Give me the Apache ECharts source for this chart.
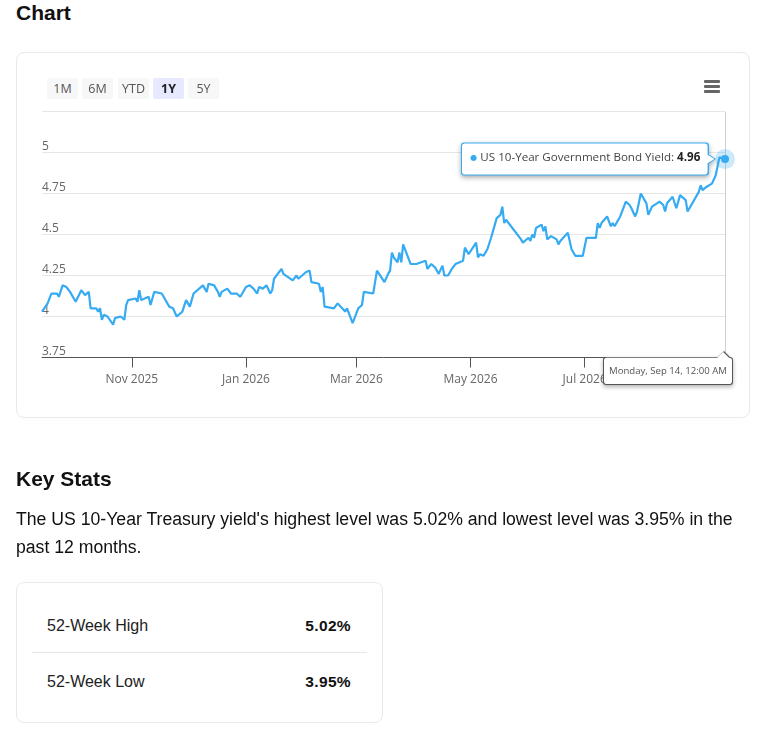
<!DOCTYPE html>
<html><head><meta charset="utf-8">
<script src="https://cdn.jsdelivr.net/npm/echarts@6/dist/echarts.min.js"></script>
<style>
html,body{margin:0;padding:0;background:#fff;width:757px;height:730px;overflow:hidden}
body{position:relative;font-family:"Liberation Sans",Arial,sans-serif;color:#111}
.abs{position:absolute;white-space:nowrap}
h2{margin:0;font-size:21px;font-weight:700;line-height:24px}
.card{position:absolute;border:1px solid #e9e9e9;border-radius:8px;box-sizing:border-box;background:#fff}
#chart{position:absolute;left:0;top:0;width:757px;height:730px}
.btn{position:absolute;top:78px;height:21px;width:31px;background:#f7f7f7;border-radius:2px;font:12.5px/21px "Open Sans",sans-serif;color:#555;text-align:center;z-index:3}
.btn.on{background:#e6e9ff;font-weight:700;color:#222}
.bar{position:absolute;left:704px;width:16px;height:3px;background:#666;border-radius:1px;z-index:3}
.row{font-size:16px;color:#222;line-height:18px}
.val{font-size:15.5px;font-weight:700;color:#111;line-height:18px;letter-spacing:.35px}
</style></head><body>
<div class="abs" style="left:16px;top:1px"><h2>Chart</h2></div>
<div class="card" style="left:16px;top:52px;width:734px;height:366px"></div>
<div id="chart"></div>
<div class="btn" style="left:47px">1M</div>
<div class="btn" style="left:82px">6M</div>
<div class="btn" style="left:118px">YTD</div>
<div class="btn on" style="left:153px">1Y</div>
<div class="btn" style="left:188px">5Y</div>
<div class="bar" style="top:80px"></div><div class="bar" style="top:85px"></div><div class="bar" style="top:90px"></div>
<div class="abs" style="left:16px;top:467px"><h2>Key Stats</h2></div>
<div class="abs" style="left:16px;top:506px;font-size:17.65px;line-height:27.5px;width:730px;white-space:normal">The US 10-Year Treasury yield's highest level was 5.02% and lowest level was 3.95% in the past 12 months.</div>
<div class="card" style="left:16px;top:582px;width:367px;height:141px"></div>
<div class="abs row" style="left:47px;top:617px">52-Week High</div>
<div class="abs val" style="right:406px;top:617px">5.02%</div>
<div class="abs" style="left:32px;top:652px;width:335px;height:1px;background:#e6e6e6"></div>
<div class="abs row" style="left:47px;top:673px">52-Week Low</div>
<div class="abs val" style="right:406px;top:673px">3.95%</div>
<script>
const startDate = Date.UTC(2025, 8, 14);
const dayOffsets = [
0,1,3,5,8,9,11,13,15,16,
18,21,23,25,26,29,30,31,32,33,
35,38,39,42,44,45,46,50,51,52,
53,57,58,60,64,65,68,70,72,73,
75,77,79,81,86,88,89,92,94,95,
96,99,100,101,104,106,107,109,111,113,
115,116,118,120,122,123,124,128,129,134,
136,137,141,143,144,148,149,150,151,152,
156,158,159,162,163,166,169,171,172,173,
177,179,180,183,185,186,187,188,190,191,
192,193,194,197,198,200,205,206,208,210,
212,214,215,217,219,221,222,225,226,228,
232,233,234,236,238,240,241,243,245,246,
247,248,256,257,260,261,262,263,264,267,
268,269,270,272,275,276,277,278,281,282,
283,285,289,291,292,296,297,298,299,302,
303,304,305,306,309,312,314,315,317,318,
320,323,324,325,326,327,330,332,333,334,
337,339,341,344,345,347,351,352,353,355,
358,360,362,365];
const yields = [
4.03,4.02,4.08,4.14,4.14,4.12,4.19,4.18,4.15,4.15,
4.09,4.16,4.13,4.15,4.05,4.05,4.03,4.05,3.98,4.01,
4.00,3.95,3.99,4.00,3.98,4.07,4.10,4.11,4.09,4.16,
4.10,4.12,4.07,4.15,4.14,4.13,4.06,4.05,4.00,4.00,
4.03,4.10,4.06,4.14,4.19,4.15,4.20,4.19,4.15,4.12,
4.15,4.17,4.17,4.14,4.14,4.12,4.13,4.18,4.19,4.17,
4.14,4.18,4.17,4.19,4.14,4.16,4.23,4.29,4.26,4.22,
4.25,4.23,4.27,4.28,4.21,4.20,4.15,4.18,4.06,4.05,
4.05,4.08,4.08,4.03,4.05,3.96,4.05,4.07,4.15,4.14,
4.14,4.28,4.29,4.21,4.26,4.28,4.39,4.36,4.33,4.39,
4.33,4.44,4.44,4.32,4.31,4.32,4.34,4.29,4.32,4.30,
4.26,4.31,4.25,4.25,4.29,4.32,4.31,4.34,4.42,4.38,
4.45,4.36,4.38,4.37,4.41,4.48,4.47,4.60,4.62,4.67,
4.57,4.59,4.47,4.45,4.48,4.46,4.50,4.48,4.54,4.56,
4.52,4.55,4.47,4.49,4.47,4.44,4.46,4.46,4.51,4.50,
4.41,4.37,4.37,4.48,4.49,4.48,4.57,4.54,4.57,4.61,
4.60,4.55,4.57,4.55,4.61,4.70,4.68,4.66,4.61,4.64,
4.75,4.69,4.62,4.62,4.67,4.66,4.70,4.68,4.64,4.69,
4.73,4.66,4.74,4.71,4.64,4.68,4.76,4.80,4.77,4.79,
4.81,4.86,4.97,4.96];
const xTickDates = ['2025-11-01','2026-01-01','2026-03-01','2026-05-01','2026-07-01'];
const xTickLabels = ['Nov 2025','Jan 2026','Mar 2026','May 2026','Jul 2026'];
const yTicks = [3.75,4,4.25,4.5,4.75,5];
const seriesName = 'US 10-Year Government Bond Yield';
const hoverDateLabel = 'Monday, Sep 14, 12:00 AM';

const toTime = d => startDate + d * 86400000;
const tickTimes = xTickDates.map(s => Date.parse(s + 'T00:00:00Z'));
const points = dayOffsets.map((d, i) => [toTime(d), yields[i]]);
const last = points[points.length - 1];
const BLUE = '#36abf2';
const tipShape = 'path://M3,0 H245 Q248,0 248,3 V12 L255,16.5 L248,21 V30 Q248,33 245,33 H3 Q0,33 0,30 V3 Q0,0 3,0 Z';
const dateShape = 'path://M3,6 H115 L121,0 L127,6 Q130,6 130,9 V31 Q130,34 127,34 H3 Q0,34 0,31 V9 Q0,6 3,6 Z';
const chart = echarts.init(document.getElementById('chart'));
chart.setOption({
  animation: false,
  textStyle: {fontFamily: '"Open Sans",sans-serif'},
  grid: {left: 42, right: 32, top: 111.5, height: 246, containLabel: false},
  xAxis: {
    type: 'value', min: startDate, max: last[0],
    axisLine: {show: true, lineStyle: {color: '#555', width: 1}},
    axisTick: {show: true, length: 10, customValues: tickTimes, lineStyle: {color: '#555', width: 1}},
    axisLabel: {customValues: tickTimes, margin: 16, fontSize: 12, color: '#666', showMinLabel: true, showMaxLabel: true,
      formatter: v => xTickLabels[tickTimes.indexOf(+v)] || ''},
    splitLine: {show: false}, minorTick: {show: false}
  },
  yAxis: {
    type: 'value', min: 3.75, max: 5.25, interval: 0.25,
    axisLine: {show: false}, axisTick: {show: false},
    splitLine: {show: true, lineStyle: {color: '#e6e6e6', width: 1}},
    axisLabel: {inside: true, margin: 0, fontSize: 12, color: '#666', verticalAlign: 'bottom', padding: 0,
      customValues: yTicks, formatter: v => String(v)}
  },
  series: [{
    name: seriesName, type: 'line', data: points, showSymbol: false, smooth: false,
    lineStyle: {color: BLUE, width: 2.2}, itemStyle: {color: BLUE}, z: 4,
    markLine: {
      silent: true, symbol: 'none', animation: false, label: {show: false},
      lineStyle: {color: '#cfcfcf', width: 1, type: 'solid'},
      data: [[{coord: [last[0], 3.75]}, {coord: [last[0], 5.25]}]]
    },
    markPoint: {
      silent: true, animation: false, z: 10,
      data: [
        {coord: last, symbol: 'circle', symbolSize: 20, itemStyle: {color: 'rgba(54,171,242,.25)'}, label: {show: false}},
        {coord: last, symbol: 'circle', symbolSize: 8, itemStyle: {color: BLUE}, label: {show: false}},
        {coord: last, symbol: tipShape, symbolSize: [255, 33], symbolOffset: [-136.5, 0],
          itemStyle: {color: BLUE, shadowBlur: 5, shadowColor: 'rgba(0,0,0,.35)', shadowOffsetY: 2}, label: {show: false}},
        {coord: last, symbol: tipShape, symbolSize: [252.5, 31], symbolOffset: [-136.75, 0],
          itemStyle: {color: '#fff'},
          label: {show: true, position: 'inside', offset: [-3, -1],
            formatter: '{d|\u25CF} {t|' + seriesName + ': }{b|' + last[1].toFixed(2) + '}',
            rich: {d: {color: BLUE, fontSize: 8, fontFamily: 'DejaVu Sans'}, t: {color: '#444', fontSize: 11.6}, b: {color: '#222', fontSize: 11.6, fontWeight: 700}}}},
        {coord: [last[0], 3.75], symbol: dateShape, symbolSize: [130, 34], symbolOffset: [-57, 10.5],
          itemStyle: {color: '#555', shadowBlur: 4, shadowColor: 'rgba(0,0,0,.3)', shadowOffsetY: 2}, label: {show: false}},
        {coord: [last[0], 3.75], symbol: dateShape, symbolSize: [128, 32], symbolOffset: [-57, 10.5],
          itemStyle: {color: '#fff'},
          label: {show: true, position: 'inside', offset: [0, 3], formatter: hoverDateLabel, color: '#555', fontSize: 9.6}}
      ]
    }
  }]
});
</script>
</body></html>
